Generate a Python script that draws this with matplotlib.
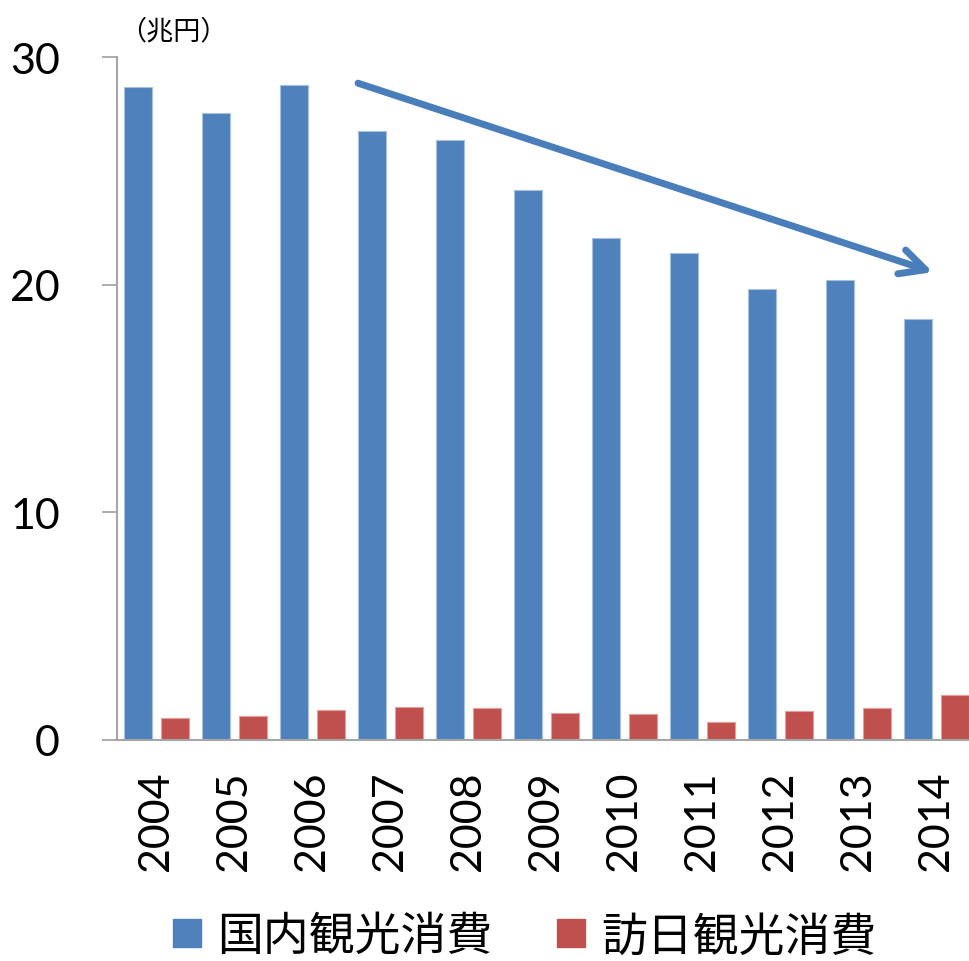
import numpy as np
import matplotlib
matplotlib.use("Agg")
import matplotlib.pyplot as plt
from matplotlib.lines import Line2D

plt.rcParams["font.family"] = ["Lato", "Noto Sans CJK JP", "DejaVu Sans"]

BLUE, RED, GRID = "#4F81BD", "#C0504D", "#A6A6A6"

years = ["2004", "2005", "2006", "2007", "2008", "2009", "2010", "2011", "2012", "2013", "2014"]
domestic = [28.69, 27.52, 28.75, 26.77, 26.37, 24.17, 22.07, 21.41, 19.83, 20.2, 18.49]   # 国内観光消費
inbound = [0.95, 1.05, 1.32, 1.44, 1.42, 1.17, 1.15, 0.80, 1.27, 1.41, 1.98]             # 訪日観光消費
series_names = ["国内観光消費", "訪日観光消費"]
yticks = [0, 10, 20, 30]

W, H = 970, 962
fig = plt.figure(figsize=(W / 100, H / 100), dpi=100)
ax = fig.add_axes([117 / W, 1 - 741 / H, 858 / W, (741 - 58) / H])

x = np.arange(len(years))
bw = 0.36
ax.bar(x - 0.23, domestic, bw, color=BLUE, edgecolor="#A7C0DE", linewidth=0.8)
ax.bar(x + 0.245, inbound, bw, color=RED, edgecolor="#E0A09E", linewidth=0.8)

ax.set_xlim(-0.5, len(years) - 0.5)
ax.set_ylim(0, 30)
ax.set_yticks(yticks)
ax.set_xticks(x)
ax.set_xticklabels(years, rotation=90, fontsize=31)
ax.tick_params(axis="x", length=0, pad=22)
ax.tick_params(axis="y", length=11, width=1.3, color=GRID, labelsize=31, pad=30)
for s in ["top", "right"]:
    ax.spines[s].set_visible(False)
for s in ["left", "bottom"]:
    ax.spines[s].set_color(GRID)
    ax.spines[s].set_linewidth(1.5)

# 下降トレンドの矢印
ax.annotate("", xy=(9.96, 20.55), xytext=(2.59, 28.85),
            arrowprops=dict(arrowstyle="->,head_length=0.9,head_width=0.45",
                            lw=5, color="#4A7EBB", mutation_scale=20,
                            shrinkA=0, shrinkB=0, capstyle="round"))

fig.text(119 / W, 1 - 32 / H, "（兆円）", fontsize=19.5, va="center", ha="left",
         family=["Noto Sans CJK JP", "DejaVu Sans"])

handles = [Line2D([], [], ls="none", marker="s", markersize=19.5, color=c) for c in (BLUE, RED)]
fig.legend(handles, series_names, ncol=2, loc="center", bbox_to_anchor=(0.541, 1 - 937 / H),
           frameon=False, fontsize=33, handlelength=0.6, handletextpad=0.36,
           columnspacing=1.4, borderpad=0, borderaxespad=0)

fig.savefig("out.png", dpi=100)
